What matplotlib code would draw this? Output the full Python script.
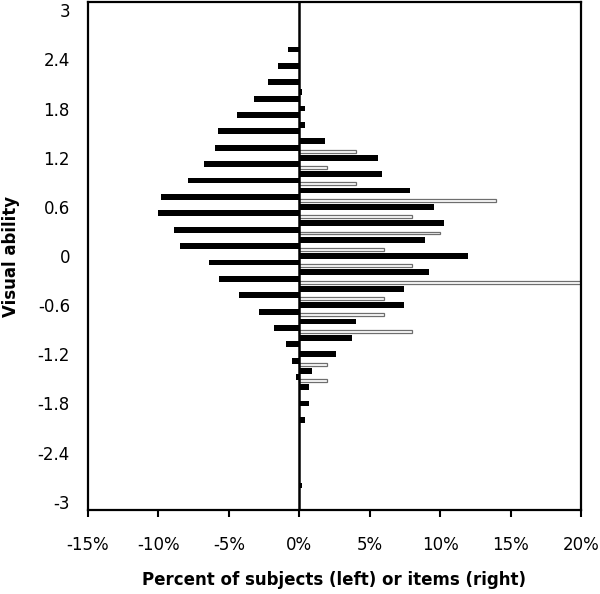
import matplotlib
matplotlib.use('Agg')
from matplotlib import pyplot as plt
from matplotlib.ticker import FuncFormatter

# ability levels (category centres, top to bottom)
levels = [3.0, 2.8, 2.6, 2.4, 2.2, 2.0, 1.8, 1.6, 1.4, 1.2, 1.0,
          0.8, 0.6, 0.4, 0.2, 0.0, -0.2, -0.4, -0.6, -0.8, -1.0,
          -1.2, -1.4, -1.6, -1.8, -2.0, -2.2, -2.4, -2.6, -2.8, -3.0]

# percent of subjects, drawn to the left
subjects_left = [0, 0, 0.8, 1.5, 2.2, 3.2, 4.4, 5.75, 5.95, 6.75, 7.9,
                 9.8, 10.0, 8.9, 8.45, 6.4, 5.7, 4.3, 2.85, 1.8, 0.95,
                 0.55, 0.2, 0, 0, 0, 0, 0, 0, 0, 0]

# black bars on the right
subjects_right = [0, 0, 0, 0, 0, 0.2, 0.4, 0.4, 1.8, 5.6, 5.9,
                  7.85, 9.55, 10.25, 8.95, 12.0, 9.2, 7.4, 7.4, 4.0, 3.75,
                  2.6, 0.9, 0.7, 0.7, 0.4, 0, 0, 0, 0.2, 0]

# percent of items (white bars)
items = [0, 0, 0, 0, 0, 0, 0, 0, 0, 4, 2,
         4, 14, 8, 10, 6, 8, 20, 6, 6, 8,
         0, 2, 2, 0, 0, 0, 0, 0, 0, 0]

tick_levels = [3, 2.4, 1.8, 1.2, 0.6, 0, -0.6, -1.2, -1.8, -2.4, -3]
tick_labels = ['3', '2.4', '1.8', '1.2', '0.6', '0', '-0.6', '-1.2', '-1.8', '-2.4', '-3']
x_ticks = [-15, -10, -5, 0, 5, 10, 15, 20]

fig = plt.figure(figsize=(6, 5.94), dpi=100)
ax = fig.add_axes([88 / 600, 1 - 510 / 594, 493 / 600, 508 / 594])


def keep(vals, shift):
    ys = [lv + shift for lv, v in zip(levels, vals) if v > 0]
    ws = [v for v in vals if v > 0]
    return ys, ws


ys, ws = keep(subjects_left, -0.079)
ax.barh(ys, [-w for w in ws], height=0.071, color='black', linewidth=0)

ys, ws = keep(subjects_right, 0.0)
ax.barh(ys, ws, height=0.071, color='black', linewidth=0)

ys, ws = keep(items, 0.081)
ax.barh(ys, ws, height=0.036, color='white', edgecolor='#6e6e6e', linewidth=0.9)

ax.axvline(0, color='black', linewidth=1.8, zorder=3)

ax.set_xlim(-15, 20)
ax.set_ylim(-3.1, 3.1)

ax.set_xticks(x_ticks)
ax.xaxis.set_major_formatter(FuncFormatter(lambda v, p: f"{v:.0f}%"))
ax.set_yticks(tick_levels)
ax.set_yticklabels(tick_labels)

ax.tick_params(axis='x', direction='out', length=5, width=1.5, pad=14, labelsize=12)
ax.tick_params(axis='y', length=0, pad=13, labelsize=12)

for s in ax.spines.values():
    s.set_linewidth(1.6)

ax.set_xlabel('Percent of subjects (left) or items (right)', fontsize=12, fontweight='bold')
ax.set_ylabel('Visual ability', fontsize=12, fontweight='bold')
ax.xaxis.set_label_coords(0.5, -0.12)
ax.yaxis.set_label_coords(-0.138, 0.5)

fig.savefig('out.png', dpi=100)
